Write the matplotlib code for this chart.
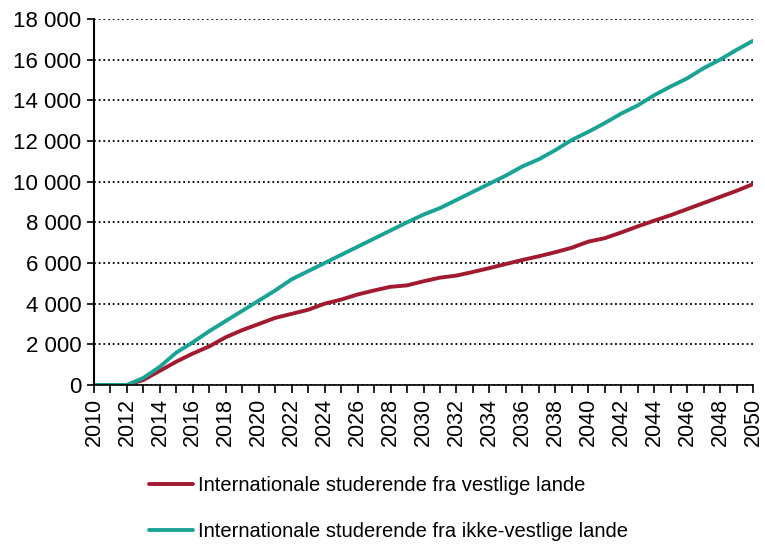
import matplotlib.pyplot as plt
from matplotlib.ticker import FuncFormatter, MultipleLocator

plt.rcParams['font.family'] = ['Liberation Sans', 'DejaVu Sans']

years = list(range(2010, 2051))

vestlige = [0, 0, 0, 250, 700, 1150, 1550, 1900, 2350, 2700,
            3000, 3300, 3500, 3700, 4000, 4200, 4450, 4650, 4830, 4900,
            5100, 5280, 5380, 5560, 5750, 5950, 6150, 6330, 6530, 6750,
            7050, 7220, 7500, 7800, 8080, 8350, 8650, 8950, 9250, 9550,
            9880]

ikke_vestlige = [0, 0, 0, 350, 900, 1600, 2100, 2650, 3150, 3650,
                 4150, 4650, 5200, 5600, 6000, 6400, 6800, 7200, 7600, 8000,
                 8380, 8700, 9100, 9500, 9900, 10300, 10750, 11100, 11550, 12050,
                 12450, 12880, 13350, 13750, 14250, 14680, 15080, 15580, 16000, 16480,
                 16930]

labels = ["Internationale studerende fra vestlige lande",
          "Internationale studerende fra ikke-vestlige lande"]
colors = ["#A21A30", "#1AA395"]

fig = plt.figure(figsize=(7.65, 5.45), dpi=100)
ax = fig.add_axes([94 / 765, 1 - 385 / 545, (753 - 94) / 765, (385 - 19) / 545])

ax.plot(years, vestlige, color=colors[0], lw=2.8, label=labels[0], solid_capstyle='round')
ax.plot(years, ikke_vestlige, color=colors[1], lw=2.8, label=labels[1], solid_capstyle='round')

ax.set_xlim(2010, 2050)
ax.set_ylim(0, 18000)
ax.yaxis.set_major_locator(MultipleLocator(2000))
ax.yaxis.set_major_formatter(FuncFormatter(lambda v, p: f"{int(v):,}".replace(",", " ")))
ax.xaxis.set_major_locator(MultipleLocator(2))
ax.xaxis.set_minor_locator(MultipleLocator(1))
ax.tick_params(axis='x', which='both', direction='out', length=6, width=1.2, labelsize=15.5,
               labelrotation=90, pad=3.5)
ax.tick_params(axis='y', direction='out', length=5, width=1.2, labelsize=16, pad=4)

ax.grid(axis='y', color='black', linestyle=(0, (1, 1.6)), linewidth=1.3)
ax.set_axisbelow(True)
for s in ['top', 'right']:
    ax.spines[s].set_visible(False)
ax.spines['left'].set_linewidth(1.5)
ax.spines['bottom'].set_linewidth(1.2)

fig.legend(loc='upper left', bbox_to_anchor=(141 / 765, 1 - 468 / 545), frameon=False,
           fontsize=14.5, handlelength=2.2, handletextpad=0.25, labelspacing=1.35,
           borderaxespad=0)

fig.savefig("out.png", dpi=100)
